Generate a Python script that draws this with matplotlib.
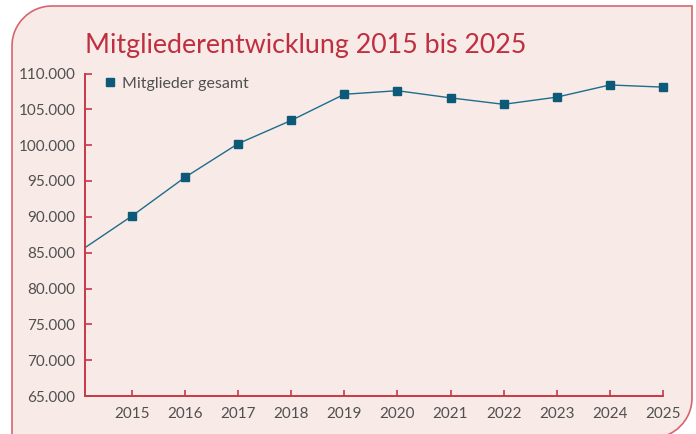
import matplotlib
matplotlib.use("Agg")
import matplotlib.pyplot as plt
from matplotlib.path import Path
from matplotlib.patches import PathPatch
from matplotlib.transforms import Affine2D
from matplotlib.ticker import FuncFormatter

years = [2014, 2015, 2016, 2017, 2018, 2019, 2020, 2021, 2022, 2023, 2024, 2025]
members = [85100, 90100, 95500, 100200, 103450, 107100, 107600, 106600, 105700, 106700, 108400, 108100]
year_ticks = list(range(2015, 2026))
y_ticks = list(range(65000, 110001, 5000))
title = "Mitgliederentwicklung 2015 bis 2025"
legend_label = "Mitglieder gesamt"

W, H = 696, 434
bg = "#f8eae7"
red = "#c8384a"
title_red = "#bf2f40"
border = "#d66570"
blue_line = "#1d6d8c"
blue_mark = "#0d5a78"
grey = "#505050"

plt.rcParams["font.family"] = ["Lato", "DejaVu Sans"]

fig = plt.figure(figsize=(W / 100, H / 100), dpi=100)
fig.patch.set_facecolor("white")

# rounded panel: top-left and bottom-right corners rounded (pixel coords, y down)
left, top, right, bottom, r = 12, 6, 692, 438, 40
k = 0.5523 * r
verts = [
    (left + r, top),
    (right, top),
    (right, bottom - r),
    (right, bottom - r + k), (right - r + k, bottom), (right - r, bottom),
    (left, bottom),
    (left, top + r),
    (left, top + r - k), (left + r - k, top), (left + r, top),
    (left + r, top),
]
codes = [Path.MOVETO, Path.LINETO, Path.LINETO,
         Path.CURVE4, Path.CURVE4, Path.CURVE4,
         Path.LINETO, Path.LINETO,
         Path.CURVE4, Path.CURVE4, Path.CURVE4,
         Path.CLOSEPOLY]
to_fig = Affine2D().scale(1 / W, -1 / H).translate(0, 1) + fig.transFigure
panel = PathPatch(Path(verts, codes), facecolor=bg, edgecolor=border, lw=1.2,
                  transform=to_fig, zorder=-5)
fig.patches.append(panel)

ax = fig.add_axes([85 / W, 1 - 396 / H, (663 - 85) / W, (396 - 73.5) / H])
ax.set_facecolor("none")
# line runs in from 2014 (clipped at the axis), markers only for the shown years
ax.plot(years, members, color=blue_line, lw=1.0)
ax.plot(years[1:], members[1:], ls="none", marker="s", markersize=6,
        markerfacecolor=blue_mark, markeredgecolor=blue_mark, label=legend_label,
        clip_on=False, zorder=3)
ax.set_xlim(2014.12, 2025)
ax.set_ylim(65000, 110000)
ax.set_xticks(year_ticks)
ax.set_yticks(y_ticks)
ax.yaxis.set_major_formatter(FuncFormatter(lambda v, p: f"{int(v):,}".replace(",", ".")))

for s in ["top", "right"]:
    ax.spines[s].set_visible(False)
for s in ["left", "bottom"]:
    ax.spines[s].set_color(red)
    ax.spines[s].set_linewidth(1.4)
ax.tick_params(axis="both", direction="in", color=red, width=1.2, labelcolor=grey,
               labelsize=11)
ax.tick_params(axis="y", length=5, pad=7)
ax.tick_params(axis="x", length=4, pad=8)

leg = ax.legend(loc="upper left", bbox_to_anchor=(0.01, 1.035), frameon=False,
                handlelength=0.6, handletextpad=0.45, fontsize=11.5,
                labelcolor=grey)

fig.text(85 / W, 1 - 45 / H, title, color=title_red, fontsize=19.3,
         va="center", ha="left")

fig.savefig("out.png", dpi=100, facecolor="white")
